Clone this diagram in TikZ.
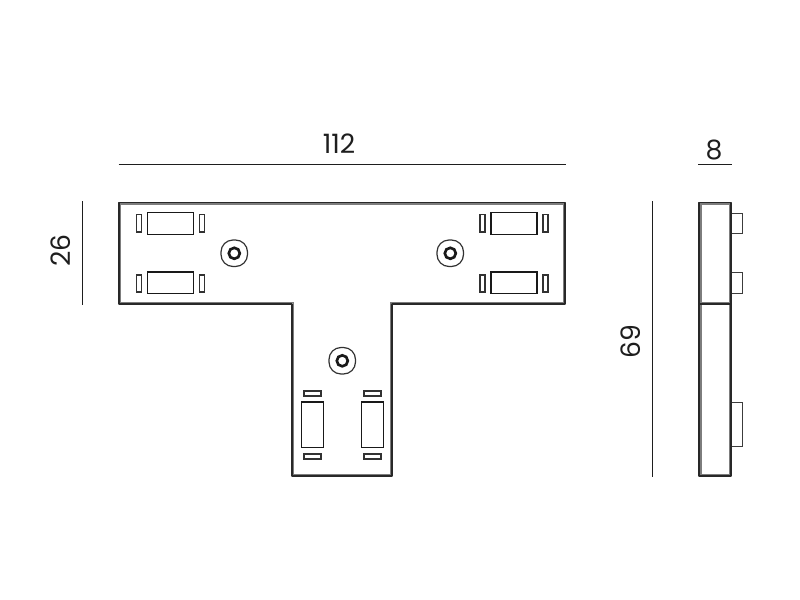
\documentclass[tikz,border=0pt]{standalone}
\usepackage{fontspec}
\setmainfont{Poppins}
\tikzset{
	outline/.style={line width=1.2pt,draw={rgb, 255:red, 40; green, 40; blue, 40 },line join=round},
	innerline/.style={line width=1pt,draw={rgb, 255:red, 125; green, 125; blue, 125 }},
	socket/.style={line width=1.35pt,draw={rgb, 255:red, 25; green, 25; blue, 25 }},
	slot/.style={line width=0.9pt,draw={rgb, 255:red, 50; green, 50; blue, 50 }},
	tab/.style={line width=1pt,draw={rgb, 255:red, 60; green, 60; blue, 60 }},
	dimline/.style={line width=0.7pt,draw={rgb, 255:red, 30; green, 30; blue, 30 }},
	dimtext/.style={inner sep=0.75pt,font=\fontsize{20}{20}\selectfont,text={rgb, 255:red, 30; green, 30; blue, 30 }},
}
\begin{document}
\begin{tikzpicture}[x=0.75pt,y=0.75pt,yscale=-1,xscale=1]
	\useasboundingbox (0,0) rectangle (800,600);
	\draw [innerline] (120.5,204) -- (563.5,204) -- (563.5,302.5) -- (390.5,302.5) -- (390.5,474.5) -- (293.5,474.5) -- (293.5,302.5) -- (120.5,302.5) -- cycle ;
	\draw [outline] (119,202.5) -- (565,202.5) -- (565,304) -- (392,304) -- (392,476) -- (292,476) -- (292,304) -- (119,304) -- cycle ;
	\draw [socket] (147.5,212.5) rectangle (193.5,234.5) ;
	\draw [socket] (147.5,272) rectangle (193.5,293.5) ;
	\draw [socket] (491,212.5) rectangle (537,234.5) ;
	\draw [socket] (491,272) rectangle (537,293.5) ;
	\draw [socket] (301.5,402) rectangle (323.5,447.5) ;
	\draw [socket] (361.5,402) rectangle (383.5,447.5) ;
	\draw [slot] (136.5,214.5) rectangle (141.5,232) ;
	\draw [slot] (199.5,214.5) rectangle (204.5,232) ;
	\draw [slot] (136.5,275) rectangle (141.5,292) ;
	\draw [slot] (199.5,275) rectangle (204.5,292) ;
	\draw [slot] (480,214.5) rectangle (485,232) ;
	\draw [slot] (543,214.5) rectangle (548,232) ;
	\draw [slot] (480,275) rectangle (485,292) ;
	\draw [slot] (543,275) rectangle (548,292) ;
	\draw [slot] (304,391) rectangle (321,396) ;
	\draw [slot] (304,454) rectangle (321,459) ;
	\draw [slot] (364,391) rectangle (381,396) ;
	\draw [slot] (364,454) rectangle (381,459) ;
	\draw [slot,rounded corners=9] (221,240) rectangle (247.5,266.5) ;
	\draw [slot,rounded corners=9] (437,240) rectangle (463.5,266.5) ;
	\draw [slot,rounded corners=9] (329,347.5) rectangle (355.5,374) ;
	\draw [socket,line width=2pt] (234.3,253.3) circle [radius=5.5] ;
	\draw [socket,line width=2pt] (450.3,253.3) circle [radius=5.5] ;
	\draw [socket,line width=2pt] (342.3,360.8) circle [radius=5.5] ;
	\draw [tab] (731,213.5) -- (742.5,213.5) -- (742.5,233.5) -- (731,233.5) ;
	\draw [tab] (731,272.5) -- (742.5,272.5) -- (742.5,293.5) -- (731,293.5) ;
	\draw [tab] (731,402.5) -- (742.5,402.5) -- (742.5,446.5) -- (731,446.5) ;
	\draw [innerline] (701,202.5) -- (701,476) (729.5,202.5) -- (729.5,476) (699.5,204) -- (731,204) (699.5,302.5) -- (731,302.5) (699.5,474.5) -- (731,474.5) ;
	\draw [outline] (699,202.5) rectangle (731,476) ;
	\draw [outline] (699,304) -- (731,304) ;
	\draw [dimline] (118.5,164.5) -- (566,164.5) ;
	\draw [dimline] (698,164.5) -- (732,164.5) ;
	\draw [dimline] (82,201) -- (82,305) ;
	\draw [dimline] (652,201) -- (652,477) ;
	\draw (339,144) node (widthlabel) [dimtext] {112};
	\draw (714,150) node (depthlabel) [dimtext] {8};
	\draw (61,250.5) node (armlabel) [dimtext,rotate=90] {26};
	\draw (630.5,342) node (heightlabel) [dimtext,rotate=90] {69};
\end{tikzpicture}
\end{document}
